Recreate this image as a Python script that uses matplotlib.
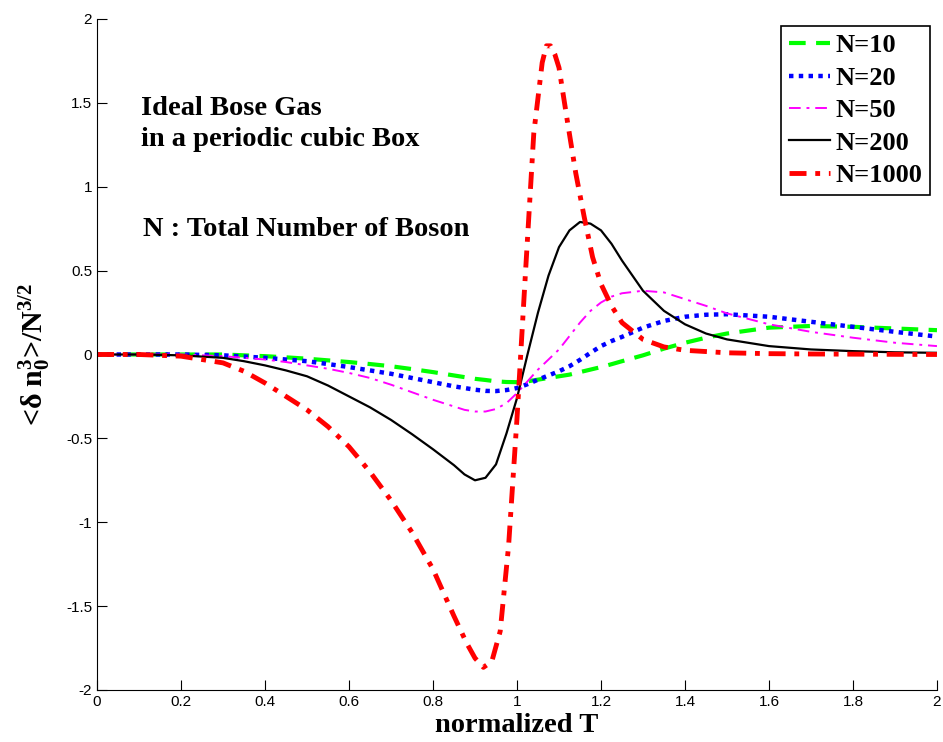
import numpy as np
import matplotlib
matplotlib.use('Agg')
import matplotlib.pyplot as plt
from matplotlib.ticker import FormatStrFormatter

plt.rcParams['mathtext.fontset'] = 'custom'
plt.rcParams['mathtext.rm'] = 'Liberation Serif:bold'
plt.rcParams['mathtext.it'] = 'Liberation Serif:bold'
plt.rcParams['mathtext.bf'] = 'Liberation Serif:bold'

# values
t = [0, 0.1, 0.2, 0.3, 0.35, 0.4, 0.45, 0.5, 0.55, 0.6, 0.65, 0.7, 0.75, 0.8,
     0.85, 0.875, 0.9, 0.925, 0.95, 0.975, 1.0, 1.025, 1.05, 1.075, 1.1, 1.125,
     1.15, 1.175, 1.2, 1.225, 1.25, 1.3, 1.35, 1.4, 1.45, 1.5, 1.6, 1.7, 1.8,
     1.9, 2.0]

n10 = [0, 0, 0, 0, -0.005, -0.01, -0.017, -0.025, -0.035, -0.045, -0.057, -0.07,
       -0.087, -0.105, -0.125, -0.135, -0.145, -0.152, -0.16, -0.164, -0.165,
       -0.16, -0.15, -0.14, -0.13, -0.12, -0.105, -0.09, -0.075, -0.058, -0.04,
       -0.005, 0.035, 0.07, 0.1, 0.125, 0.16, 0.17, 0.165, 0.155, 0.145]

n20 = [0, 0, 0, -0.005, -0.012, -0.02, -0.03, -0.04, -0.057, -0.075, -0.095,
       -0.115, -0.14, -0.165, -0.19, -0.2, -0.21, -0.217, -0.218, -0.212, -0.2,
       -0.177, -0.15, -0.125, -0.1, -0.07, -0.032, 0.01, 0.05, 0.08, 0.105, 0.16,
       0.2, 0.225, 0.237, 0.24, 0.225, 0.195, 0.165, 0.135, 0.107]

n50 = [0, 0, 0, -0.01, -0.02, -0.03, -0.045, -0.065, -0.085, -0.11, -0.14, -0.18,
       -0.225, -0.27, -0.31, -0.33, -0.34, -0.34, -0.325, -0.29, -0.23, -0.16,
       -0.09, -0.03, 0.03, 0.11, 0.19, 0.26, 0.31, 0.345, 0.365, 0.38, 0.37,
       0.33, 0.29, 0.245, 0.18, 0.135, 0.1, 0.07, 0.05]

n200 = [0, 0, -0.005, -0.02, -0.04, -0.065, -0.095, -0.13, -0.185, -0.25, -0.315,
        -0.39, -0.475, -0.565, -0.66, -0.715, -0.75, -0.735, -0.655, -0.47, -0.26,
        0.0, 0.25, 0.47, 0.64, 0.74, 0.79, 0.78, 0.74, 0.66, 0.56, 0.38, 0.26,
        0.18, 0.125, 0.09, 0.05, 0.03, 0.02, 0.013, 0.01]

t1000 = [0, 0.1, 0.2, 0.3, 0.35, 0.4, 0.45, 0.5, 0.55, 0.6, 0.65, 0.7, 0.75, 0.8,
         0.85, 0.88, 0.9, 0.92, 0.94, 0.96, 0.98, 1.0, 1.02, 1.04, 1.06, 1.07,
         1.08, 1.09, 1.1, 1.12, 1.14, 1.16, 1.18, 1.2, 1.225, 1.25, 1.3, 1.35,
         1.4, 1.5, 1.6, 1.7, 1.8, 1.9, 2.0]
n1000 = [0, 0, -0.01, -0.05, -0.1, -0.17, -0.25, -0.33, -0.43, -0.55, -0.7,
         -0.87, -1.06, -1.28, -1.56, -1.72, -1.81, -1.865, -1.83, -1.65, -1.14,
         -0.38, 0.48, 1.32, 1.74, 1.84, 1.84, 1.79, 1.71, 1.39, 1.08, 0.82, 0.58,
         0.42, 0.29, 0.19, 0.09, 0.045, 0.025, 0.01, 0.005, 0.003, 0.002, 0.001, 0]

fig = plt.figure(figsize=(9.43, 7.42), dpi=100)
ax = fig.add_axes([0.1029, 0.0701, 0.8907, 0.9043])

ax.plot(t, n10, color='#00ff00', ls=(0, (4, 2.5)), lw=3, label='N=10')
ax.plot(t, n20, color='#0000ff', ls=(0, (1, 1.2)), lw=3.2, label='N=20')
ax.plot(t, n50, color='#ff00ff', ls=(0, (6, 3, 1.5, 3)), lw=1.4, label='N=50')
ax.plot(t, n200, color='black', ls='-', lw=1.6, label='N=200')
ax.plot(t1000, n1000, color='#ff0000', ls=(0, (3.5, 1.8, 1, 1.8)), lw=3.5,
        label='N=1000')

ax.set_xlim(0, 2)
ax.set_ylim(-2, 2)
ax.set_xticks(np.arange(0, 2.01, 0.2))
ax.set_yticks(np.arange(-2, 2.01, 0.5))
ax.xaxis.set_major_formatter(FormatStrFormatter('%g'))
ax.yaxis.set_major_formatter(FormatStrFormatter('%g'))
ax.tick_params(direction='in', length=7, labelsize=11, top=False, right=False)
for lab in ax.get_xticklabels() + ax.get_yticklabels():
    lab.set_fontfamily('Liberation Sans')
ax.spines['top'].set_visible(False)
ax.spines['right'].set_visible(False)

ax.set_xlabel('normalized T', family='Liberation Serif', weight='bold',
              fontsize=20.5, labelpad=3)
# plain "<" ">" outside math mode so they get no relation spacing
ax.set_ylabel(r'<δ $\mathrm{n_0^3}$>/$\mathrm{N^{3/2}}$', family='Liberation Serif',
              weight='bold', fontsize=21.5, labelpad=10)

ax.text(0.052, 0.843, 'Ideal Bose Gas\nin a periodic cubic Box',
        transform=ax.transAxes, family='Liberation Serif', weight='bold',
        fontsize=20.5, va='center', linespacing=1.3)
ax.text(0.055, 0.687, 'N : Total Number of Boson', transform=ax.transAxes,
        family='Liberation Serif', weight='bold', fontsize=20.5, va='center')

leg = ax.legend(loc='upper right', bbox_to_anchor=(0.9917, 0.9896),
                fontsize=19, handlelength=1.55, handletextpad=0.2,
                borderpad=0.3, labelspacing=0.34, borderaxespad=0,
                fancybox=False, framealpha=1)
for txt in leg.get_texts():
    txt.set_fontfamily('Liberation Serif')
    txt.set_fontweight('bold')
leg.get_frame().set_edgecolor('black')
leg.get_frame().set_linewidth(1.2)

fig.savefig('out.png', dpi=100)
